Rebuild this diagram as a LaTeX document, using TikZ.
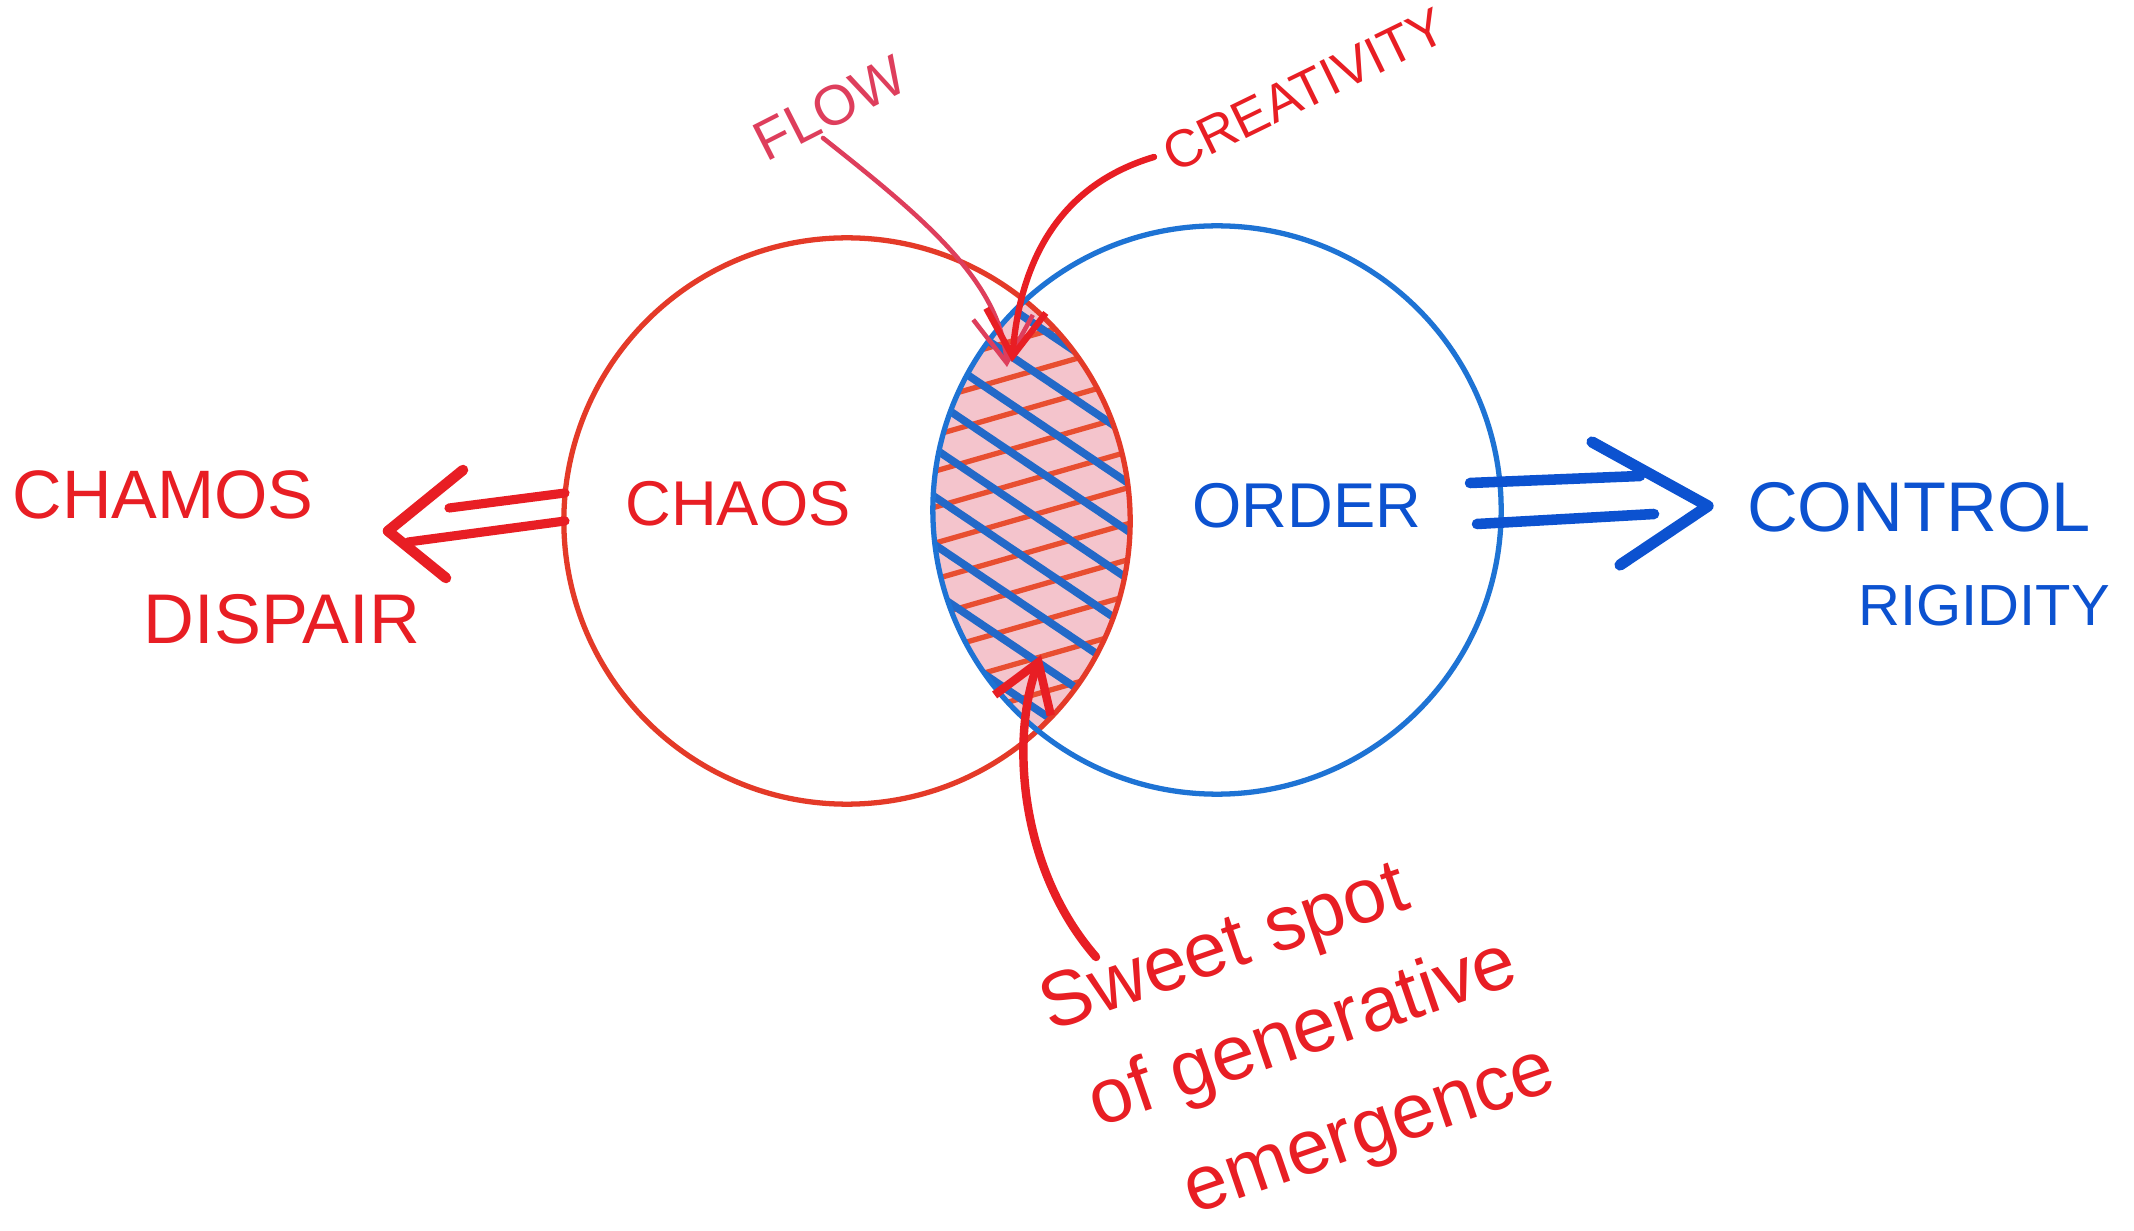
\documentclass[tikz,border=0pt]{standalone}
\usepackage{fontspec}
\setmainfont{Liberation Sans}
\usetikzlibrary{arrows.meta}
\definecolor{chaosred}{RGB}{228,58,40}
\definecolor{inkred}{RGB}{232,30,36}
\definecolor{flowred}{RGB}{222,62,92}
\definecolor{orderblue}{RGB}{30,115,212}
\definecolor{inkblue}{RGB}{12,82,208}
\definecolor{lenspink}{RGB}{244,196,204}
\definecolor{hatchred}{RGB}{232,78,48}
\definecolor{hatchblue}{RGB}{35,105,200}
\begin{document}
\begin{tikzpicture}[x=0.01cm,y=-0.01cm,
  lbl/.style={inner sep=0pt},
  ring/.style={circle, inner sep=0pt, line width=1.5pt},
  dblline/.style={line width=2.6pt, line cap=round},
  vhead/.style={line width=3pt, line cap=round, line join=round},
  pointer/.style={line cap=round, -{Straight Barb[length=13pt,width=17pt]}}]
\useasboundingbox (0,0) rectangle (2134,1231);
\fill[white] (0,0) rectangle (2134,1231);

% lens shading
\begin{scope}
  \clip (847,521) circle[radius=283];
  \clip (1217,510) circle[radius=284];
  \fill[lenspink] (700,250) rectangle (1400,800);
  \foreach \i in {-9,...,9}{
    \draw[hatchred, line width=1.5pt] (733,{515+\i*36+86}) -- (1333,{515+\i*36-86});
  }
  \foreach \i in {-8,...,8}{
    \draw[hatchblue, line width=2.2pt] (733,{515+\i*48-202}) -- (1333,{515+\i*48+202});
  }
\end{scope}

% circles
\node[ring, draw=chaosred, minimum size=5.66cm] (redc) at (847,521) {};
\node[ring, draw=orderblue, minimum size=5.68cm] (bluec) at (1217,510) {};

% labels
\node[lbl, text=inkred, font=\fontsize{19.5}{24}\selectfont] (chamos) at (163,495) {CHAMOS};
\node[lbl, text=inkred, font=\fontsize{20}{24}\selectfont] (dispair) at (282,619) {DISPAIR};
\node[lbl, text=inkred, font=\fontsize{18}{22}\selectfont] (chaos) at (738,504) {CHAOS};
\node[lbl, text=inkblue, font=\fontsize{18}{22}\selectfont] (order) at (1307,506) {ORDER};
\node[lbl, text=inkblue, font=\fontsize{20}{24}\selectfont] (control) at (1919,507) {CONTROL};
\node[lbl, text=inkblue, font=\fontsize{16.5}{20}\selectfont] (rigidity) at (1984,606) {RIGIDITY};
\node[lbl, text=flowred, rotate=27, font=\fontsize{16}{20}\selectfont] (flow) at (830,108) {FLOW};
\node[lbl, text=inkred, rotate=26, font=\fontsize{15}{19}\selectfont] (creativity) at (1304,90) {CREATIVITY};
\node[lbl, text=inkred, rotate=19, anchor=base west, font=\fontsize{22}{26}\selectfont] (sweet1) at (1050,1032) {Sweet spot};
\node[lbl, text=inkred, rotate=19, anchor=base west, font=\fontsize{22}{26}\selectfont] (sweet2) at (1098,1128) {of generative};
\node[lbl, text=inkred, rotate=19, anchor=base west, font=\fontsize{22}{26}\selectfont] (sweet3) at (1193,1215) {emergence};

% red double arrow (to CHAMOS)
\coordinate (ra1) at (565,493); \coordinate (ra2) at (449,508);
\coordinate (rb1) at (565,521); \coordinate (rb2) at (408,542);
\coordinate (rtip) at (388,531); \coordinate (rbarbA) at (463,470); \coordinate (rbarbB) at (446,578);
\draw[dblline, inkred] (ra1) -- (ra2);
\draw[dblline, inkred] (rb1) -- (rb2);
\draw[vhead, inkred] (rbarbA) -- (rtip) -- (rbarbB);

% blue double arrow (to CONTROL)
\coordinate (ba1) at (1470,483); \coordinate (ba2) at (1640,476);
\coordinate (bb1) at (1477,524); \coordinate (bb2) at (1654,514);
\coordinate (btip) at (1708,506); \coordinate (bbarbA) at (1592,442); \coordinate (bbarbB) at (1620,565);
\draw[dblline, inkblue, line width=3pt] (ba1) -- (ba2);
\draw[dblline, inkblue, line width=3pt] (bb1) -- (bb2);
\draw[vhead, inkblue, line width=3.2pt] (bbarbA) -- (btip) -- (bbarbB);

% pointers
\coordinate (flowstart) at (823,138);
\coordinate (flowtip) at (1007,367);
\draw[pointer, flowred, line width=1.3pt] (flowstart) .. controls (920,215) and (1000,280) .. (flowtip);
\coordinate (creastart) at (1154,157);
\coordinate (creatip) at (1012,362);
\draw[pointer, inkred, line width=1.8pt] (creastart) .. controls (1060,185) and (1020,260) .. (creatip);
\coordinate (sweetstart) at (1096,957);
\coordinate (sweettip) at (1041,655);
\draw[pointer, inkred, line width=2.4pt] (sweetstart) .. controls (1020,870) and (1010,740) .. (sweettip);
\end{tikzpicture}
\end{document}
